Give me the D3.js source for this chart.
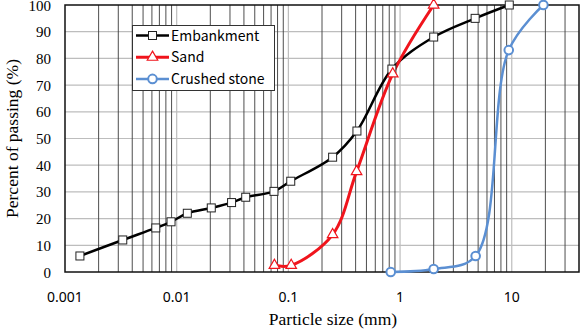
<!DOCTYPE html>
<html>
<head>
<meta charset="utf-8">
<script src="https://cdn.jsdelivr.net/npm/d3@7"></script>
<style>
  body { margin: 0; background: #fff; }
  svg { display: block; }
</style>
</head>
<body>
<script>
// particle size (mm) and percent passing
const embSize = [0.00136, 0.00329, 0.0065, 0.0089, 0.01245, 0.0204, 0.031, 0.0415, 0.0743, 0.105, 0.249, 0.411, 0.845, 2.0, 4.7, 9.5];
const embPass = [6, 12, 16.5, 18.8, 22, 24, 26, 28, 30.2, 34, 43, 52.8, 76, 88, 95, 100];

const sandSize = [0.075, 0.106, 0.249, 0.408, 0.86, 2.0];
const sandPass = [2.5, 2.5, 14, 37.6, 74.2, 100];

const stoneSize = [0.825, 2.0, 4.75, 9.4, 19.2];
const stonePass = [0, 1.1, 6, 83.1, 100];

const xTicks = [0.001, 0.01, 0.1, 1, 10];
const xTickLabels = ["0.001", "0.01", "0.1", "1", "10"];
const yTicks = [0, 10, 20, 30, 40, 50, 60, 70, 80, 90, 100];

const seriesNames = ["Embankment", "Sand", "Crushed stone"];

const width = 587, height = 332;
const pLeft = 65, pRight = 579, pTop = 5, pBottom = 272;

const svg = d3.select("body").append("svg")
  .attr("width", width)
  .attr("height", height);

const x = d3.scaleLog().domain([0.001, 40]).range([pLeft, pRight]);
const y = d3.scaleLinear().domain([0, 100]).range([pBottom, pTop]);

// grid lines
let vlines = [];
for (let k = -3; k <= 1; k++) {
  for (let n = 1; n <= 9; n++) {
    let v = n * Math.pow(10, k);
    if (v > 0.001 && v < 40) vlines.push({v: v, major: n === 1});
  }
}
svg.append("g").selectAll("line")
  .data(yTicks.filter(d => d > 0 && d < 100))
  .enter().append("line")
  .attr("x1", pLeft).attr("x2", pRight)
  .attr("y1", d => y(d)).attr("y2", d => y(d))
  .attr("stroke", "#bdbdbd").attr("stroke-width", 1.2);

svg.append("g").selectAll("line")
  .data(vlines)
  .enter().append("line")
  .attr("x1", d => x(d.v)).attr("x2", d => x(d.v))
  .attr("y1", pTop).attr("y2", pBottom)
  .attr("stroke", d => d.major ? "#bdbdbd" : "#3a3a3a")
  .attr("stroke-width", d => d.major ? 1.2 : 0.9);

// frame
svg.append("rect")
  .attr("x", pLeft).attr("y", pTop)
  .attr("width", pRight - pLeft).attr("height", pBottom - pTop)
  .attr("fill", "none").attr("stroke", "#111").attr("stroke-width", 1.5);

// tick labels
svg.append("g").selectAll("text")
  .data(xTicks)
  .enter().append("text")
  .attr("x", d => x(d)).attr("y", 302)
  .attr("text-anchor", "middle")
  .style("font-family", "'Noto Sans', sans-serif")
  .style("font-size", "14px")
  .text((d, i) => xTickLabels[i]);

svg.append("g").selectAll("text")
  .data(yTicks)
  .enter().append("text")
  .attr("x", 51).attr("y", d => y(d) + 5.5)
  .attr("text-anchor", "end")
  .style("font-family", "'Liberation Serif', serif")
  .style("font-size", "15px")
  .text(d => d);

// axis titles
svg.append("text")
  .attr("x", 333).attr("y", 325)
  .attr("text-anchor", "middle")
  .style("font-family", "'Liberation Serif', serif")
  .style("font-size", "17.5px")
  .text("Particle size (mm)");

svg.append("text")
  .attr("transform", `translate(18,${(pTop + pBottom) / 2}) rotate(-90)`)
  .attr("text-anchor", "middle")
  .style("font-family", "'Liberation Serif', serif")
  .style("font-size", "17.5px")
  .text("Percent of passing (%)");

// series
const line = d3.line()
  .x(d => x(d[0]))
  .y(d => y(d[1]))
  .curve(d3.curveCatmullRom.alpha(0.5));

const series = [
  {name: seriesNames[0], pts: d3.zip(embSize, embPass), color: "#000", width: 2.5, mark: "square"},
  {name: seriesNames[1], pts: d3.zip(sandSize, sandPass), color: "#f0141c", width: 3, mark: "triangle"},
  {name: seriesNames[2], pts: d3.zip(stoneSize, stonePass), color: "#5b8fd2", width: 2.5, mark: "circle"}
];

function drawMark(g, mark, color) {
  if (mark === "square") {
    g.append("rect").attr("x", -4).attr("y", -4).attr("width", 8).attr("height", 8)
      .attr("fill", "#fff").attr("stroke", "#222").attr("stroke-width", 1);
  } else if (mark === "triangle") {
    g.append("path").attr("d", d3.symbol().type(d3.symbolTriangle).size(48)())
      .attr("fill", "#fff").attr("stroke", color).attr("stroke-width", 1.2);
  } else {
    g.append("circle").attr("r", 4.3)
      .attr("fill", "#fff").attr("stroke", color).attr("stroke-width", 2);
  }
}

series.forEach(s => {
  svg.append("path")
    .datum(s.pts)
    .attr("d", line)
    .attr("fill", "none")
    .attr("stroke", s.color)
    .attr("stroke-width", s.width);
});
series.forEach(s => {
  svg.append("g").selectAll("g")
    .data(s.pts)
    .enter().append("g")
    .attr("transform", d => `translate(${x(d[0])},${y(d[1])})`)
    .each(function() { drawMark(d3.select(this), s.mark, s.color); });
});

// legend
const lg = svg.append("g");
lg.append("rect")
  .attr("x", 132.5).attr("y", 25.5).attr("width", 142).attr("height", 65)
  .attr("fill", "#fff").attr("stroke", "#333").attr("stroke-width", 1);
series.forEach((s, i) => {
  let cy = 35.5 + i * 21.7;
  lg.append("line")
    .attr("x1", 136).attr("x2", 169).attr("y1", cy).attr("y2", cy)
    .attr("stroke", s.color).attr("stroke-width", s.width);
  let m = lg.append("g").attr("transform", `translate(152.5,${cy})`);
  drawMark(m, s.mark, s.color);
  lg.append("text")
    .attr("x", 171).attr("y", cy + 5)
    .style("font-family", "'Noto Sans CJK KR', 'Noto Sans', sans-serif")
    .style("font-size", "14px")
    .text(s.name);
});
</script>
</body>
</html>
